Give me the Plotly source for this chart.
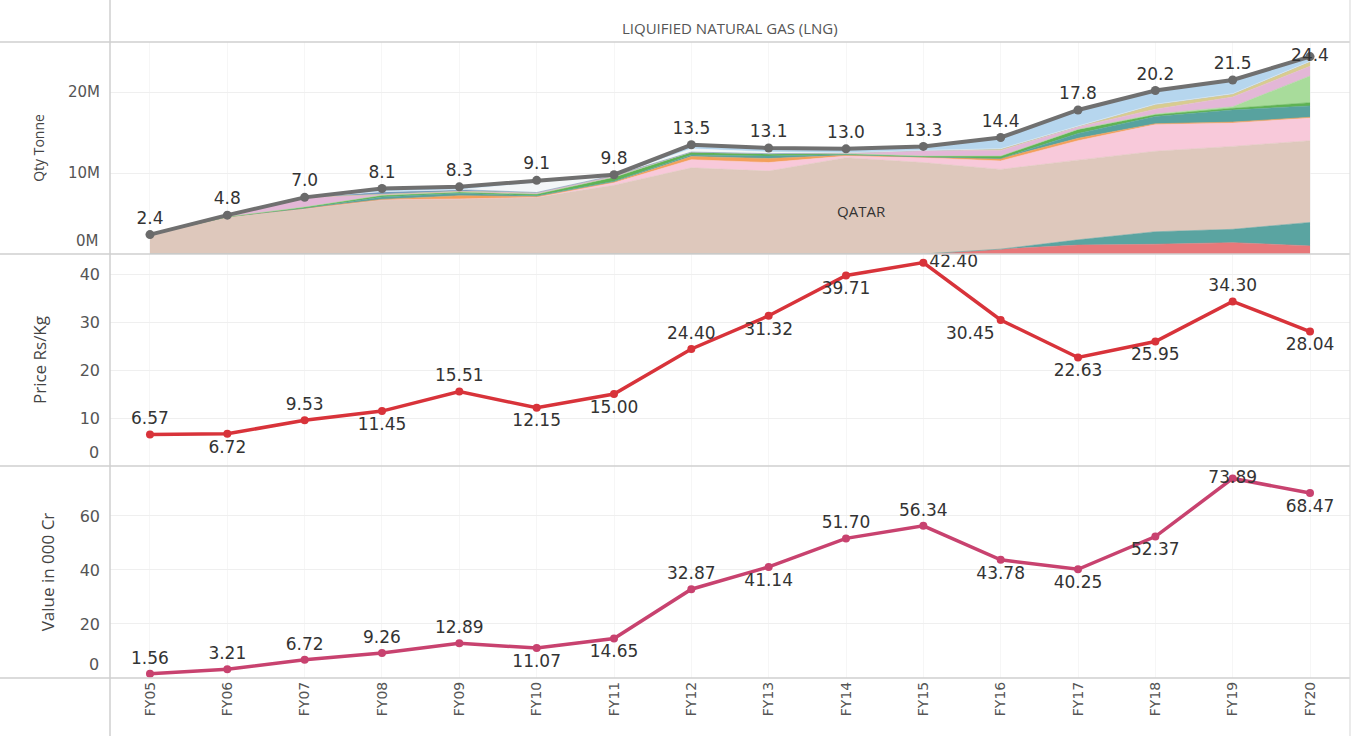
import plotly.graph_objects as go
from plotly.subplots import make_subplots

years = ["FY05", "FY06", "FY07", "FY08", "FY09", "FY10", "FY11", "FY12",
         "FY13", "FY14", "FY15", "FY16", "FY17", "FY18", "FY19", "FY20"]

# Quantity (million tonnes) by source, stacked bottom -> top
qty_red        = [0, 0, 0, 0, 0, 0, 0, 0, 0, 0, 0, 0.6, 1.1, 1.2, 1.4, 1.0]
qty_teal       = [0, 0, 0, 0, 0, 0, 0, 0, 0, 0, 0, 0, 0.65, 1.55, 1.65, 2.9]
qty_qatar      = [2.4, 4.6, 5.6, 6.7, 6.8, 7.0, 8.5, 10.65, 10.25, 11.9, 11.3, 9.85, 9.85, 9.95, 10.25, 10.1]
qty_pink       = [0, 0, 0, 0, 0, 0, 0.3, 1.0, 1.05, 0.2, 0.6, 1.05, 2.4, 3.3, 2.9, 2.8]
qty_orange     = [0, 0, 0.05, 0.05, 0.4, 0.1, 0.1, 0.4, 0.5, 0.1, 0.1, 0.3, 0.3, 0.1, 0.1, 0.1]
qty_teal2      = [0, 0, 0, 0.3, 0.3, 0.1, 0.1, 0.2, 0.3, 0.1, 0, 0, 0.6, 0.9, 1.5, 1.4]
qty_green      = [0, 0, 0.15, 0.2, 0.15, 0.2, 0.5, 0.35, 0.3, 0.1, 0.1, 0.3, 0.5, 0.2, 0.2, 0.4]
qty_lightgreen = [0, 0, 0, 0, 0, 0, 0, 0, 0, 0, 0, 0, 0, 0.1, 0.2, 3.3]
qty_lavender   = [0, 0.2, 1.2, 0.15, 0.1, 0.2, 0.2, 0, 0, 0.1, 0.7, 0.7, 0.3, 0.6, 1.2, 1.2]
qty_khaki      = [0, 0, 0, 0, 0, 0, 0, 0, 0, 0, 0, 0.2, 0.1, 0.6, 0.4, 0.6]
qty_blue       = [0, 0, 0, 0.3, 0.2, 0, 0, 0, 0, 0, 0, 0, 0, 0, 0, 0]
qty_pale       = [0, 0, 0, 0, 0, 1.2, 0, 0.4, 0.2, 0, 0, 0, 0, 0, 0, 0]
qty_lightblue  = [0, 0, 0, 0.4, 0.35, 0.3, 0.1, 0.5, 0.5, 0.5, 0.5, 1.4, 2.0, 1.7, 1.7, 0.6]

qty_total = [2.4, 4.8, 7.0, 8.1, 8.3, 9.1, 9.8, 13.5, 13.1, 13.0, 13.3, 14.4, 17.8, 20.2, 21.5, 24.4]
price = [6.57, 6.72, 9.53, 11.45, 15.51, 12.15, 15.00, 24.40, 31.32, 39.71, 42.40, 30.45, 22.63, 25.95, 34.30, 28.04]
value = [1.56, 3.21, 6.72, 9.26, 12.89, 11.07, 14.65, 32.87, 41.14, 51.70, 56.34, 43.78, 40.25, 52.37, 73.89, 68.47]

qty_ticks = [10, 20]
qty_ticktext = ["10M", "20M"]
price_ticks = [10, 20, 30, 40]
value_ticks = [20, 40, 60]
zero_labels = ["0M", "0", "0"]

stack = [
    ("Red source", qty_red, "#e7787a"),
    ("Teal source", qty_teal, "#5aa4a1"),
    ("QATAR", qty_qatar, "#dec8bc"),
    ("Pink source", qty_pink, "#f8c9da"),
    ("Orange source", qty_orange, "#f3a05a"),
    ("Teal source 2", qty_teal2, "#58a29f"),
    ("Green source", qty_green, "#5fb354"),
    ("Light green source", qty_lightgreen, "#a8dc9b"),
    ("Lavender source", qty_lavender, "#e3b7d7"),
    ("Khaki source", qty_khaki, "#d8cc90"),
    ("Blue source", qty_blue, "#7599c0"),
    ("Pale source", qty_pale, "#f3f6f8"),
    ("Light blue source", qty_lightblue, "#b6d6ee"),
]

FONT = "DejaVu Sans"
LBL = dict(family=FONT, size=17, color="#333333")

fig = make_subplots(rows=3, cols=1, shared_xaxes=True, vertical_spacing=0)

for name, vals, col in stack:
    fig.add_trace(go.Scatter(x=years, y=vals, name=name, stackgroup="qty", mode="lines",
                             line=dict(width=0.6, color=col), fillcolor=col,
                             showlegend=False), row=1, col=1)

qty_pos = ["top center"] * 15 + ["middle center"]
fig.add_trace(go.Scatter(x=years, y=qty_total, mode="lines+markers+text",
                         line=dict(color="#707070", width=4),
                         marker=dict(color="#6a6a6a", size=9),
                         text=[f"{v:.1f}" for v in qty_total], textposition=qty_pos,
                         textfont=LBL, showlegend=False, cliponaxis=False), row=1, col=1)

price_pos = ["top center", "bottom center", "top center", "bottom center", "top center",
             "bottom center", "bottom center", "top center", "bottom center", "bottom center",
             "middle right", "bottom left", "bottom center", "bottom center", "top center", "bottom center"]
fig.add_trace(go.Scatter(x=years, y=price, mode="lines+markers+text",
                         line=dict(color="#d8333a", width=3.5),
                         marker=dict(color="#d8333a", size=8),
                         text=[f"{v:.2f}" for v in price], textposition=price_pos,
                         textfont=LBL, showlegend=False, cliponaxis=False), row=2, col=1)

value_pos = ["top center", "top center", "top center", "top center", "top center",
             "bottom center", "bottom center", "top center", "bottom center", "top center",
             "top center", "bottom center", "bottom center", "bottom center", "middle center", "bottom center"]
fig.add_trace(go.Scatter(x=years, y=value, mode="lines+markers+text",
                         line=dict(color="#c8426f", width=3.5),
                         marker=dict(color="#c8426f", size=8),
                         text=[f"{v:.2f}" for v in value], textposition=value_pos,
                         textfont=LBL, showlegend=False, cliponaxis=False), row=3, col=1)

W = 1240.0
H = 636.0
xr = [-0.517, 15.517]
for r in (1, 2, 3):
    fig.update_xaxes(row=r, col=1, type="category", range=xr, showgrid=True,
                     gridcolor="rgba(0,0,0,0.035)", zeroline=False, showline=False,
                     ticks="", tickangle=-90, automargin=False,
                     tickfont=dict(family=FONT, size=14, color="#555555"),
                     showticklabels=(r == 3))

fig.update_yaxes(row=1, col=1, range=[0, 26.2], tickvals=qty_ticks, ticktext=qty_ticktext,
                 tickfont=dict(family=FONT, size=15, color="#555555"),
                 title=dict(text="Qty Tonne", font=dict(family="Open Sans", size=14, color="#444"), standoff=20))
fig.update_yaxes(row=2, col=1, range=[0, 44.2], tickvals=price_ticks,
                 tickfont=dict(family=FONT, size=16, color="#555555"),
                 title=dict(text="Price Rs/Kg", font=dict(family="Open Sans", size=17, color="#444"), standoff=28))
fig.update_yaxes(row=3, col=1, range=[0, 78.5], tickvals=value_ticks,
                 tickfont=dict(family=FONT, size=16, color="#555555"),
                 title=dict(text="Value in 000 Cr", font=dict(family="Open Sans", size=17, color="#444"), standoff=20))
for r in (1, 2, 3):
    fig.update_yaxes(row=r, col=1, showgrid=True, gridcolor="#efefef", zeroline=False,
                     showline=False, ticks="", ticklabelstandoff=9, automargin=False)

# zero labels sit just above each pane's baseline
for i, (lab, yref) in enumerate(zip(zero_labels, ["y", "y2", "y3"])):
    fig.add_annotation(x=0, xref="paper", y=0, yref=yref, text=lab, showarrow=False,
                       xanchor="right", yanchor="bottom", xshift=-9, yshift=2,
                       font=dict(family=FONT, size=15 if i == 0 else 16, color="#555555"))

fig.add_annotation(x=9.2, y=5.3, xref="x", yref="y", text="QATAR", showarrow=False,
                   font=dict(family="Open Sans", size=15, color="#333333"))

fig.add_annotation(x=0.5, y=1 + 14 / H, xref="paper", yref="paper", yanchor="middle",
                   text="LIQUIFIED NATURAL GAS (LNG)", showarrow=False,
                   font=dict(family="Open Sans", size=15, color="#555555"))

lines = []
for yy in (0, 1 / 3, 2 / 3, 1):
    lines.append(dict(type="line", xref="paper", yref="paper", x0=-110 / W, x1=1,
                      y0=yy, y1=yy, line=dict(color="#cfcfcf", width=1.5)))
lines.append(dict(type="line", xref="paper", yref="paper", x0=0, x1=0,
                  y0=-58 / H, y1=1 + 42 / H, line=dict(color="#cfcfcf", width=1.5)))
lines.append(dict(type="line", xref="paper", yref="paper", x0=1, x1=1,
                  y0=-58 / H, y1=1 + 42 / H, line=dict(color="#dddddd", width=1.2)))
fig.update_layout(shapes=lines)

fig.update_layout(width=1358, height=736, margin=dict(l=110, r=8, t=42, b=58, autoexpand=False),
                  paper_bgcolor="white", plot_bgcolor="white",
                  font=dict(family=FONT, color="#444"))

fig.write_html("out.html", config={"displayModeBar": False},
               post_script="document.body.style.margin='0';document.body.style.overflow='hidden';")
